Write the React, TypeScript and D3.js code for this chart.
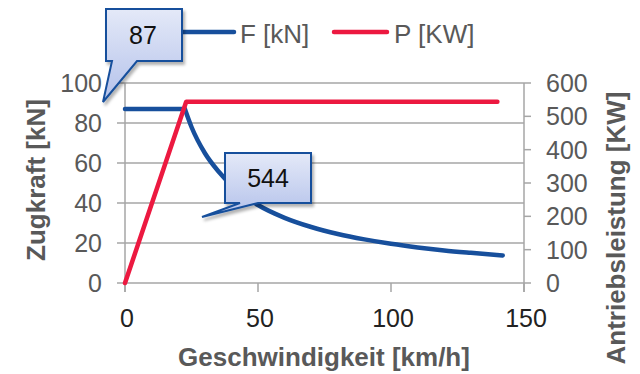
import React from "react";
import * as d3 from "d3";

const speedF = [0, 22.5, 25, 30, 35, 40, 45, 50, 60, 70, 80, 90, 100, 110, 120, 130, 142];
const forceF = [87, 87, 78, 65, 56, 49, 43.5, 39, 32.6, 28, 24.5, 21.8, 19.6, 17.8, 16.3, 15.1, 13.8];
const speedP = [0, 23, 140];
const powerP = [0, 544, 544];
const xTicks = [0, 50, 100, 150];
const yLeftTicks = [0, 20, 40, 60, 80, 100];
const yRightTicks = [0, 100, 200, 300, 400, 500, 600];
const seriesNames = ["F [kN]", "P [KW]"];
const callouts = ["87", "544"];

const W = 640, H = 374;
const BLUE = "#174f9c";
const RED = "#ec1940";
const GRID = "#a6a6a6";
const TXT = "#595959";
const FONT = "'Liberation Sans', Arial, sans-serif";

export default function App() {
  const x = d3.scaleLinear().domain([0, 150]).range([125, 524]);
  const yL = d3.scaleLinear().domain([0, 100]).range([283, 83]);
  const yR = d3.scaleLinear().domain([0, 600]).range([283, 83]);

  const fPts = speedF.map((s, i) => [s, forceF[i]] as [number, number]);
  const pPts = speedP.map((s, i) => [s, powerP[i]] as [number, number]);

  const lineFlat = d3.line<[number, number]>().x(d => x(d[0])).y(d => yL(d[1]));
  const lineCurve = d3.line<[number, number]>().x(d => x(d[0])).y(d => yL(d[1])).curve(d3.curveMonotoneX);
  const lineP = d3.line<[number, number]>().x(d => x(d[0])).y(d => yR(d[1]));

  const x0 = x(0), x1 = x(150);

  // callout shapes
  const box1 = { l: 106, t: 9, r: 182, b: 61, p1: 112, p2: 137, tx: 103, ty: 102 };
  const box2 = { l: 225, t: 153, r: 311, b: 203, p1: 240, p2: 258, tx: 202, ty: 217 };
  const calloutPath = (c: typeof box1) =>
    `M${c.l},${c.t}H${c.r}V${c.b}H${c.p2}L${c.tx},${c.ty}L${c.p1},${c.b}H${c.l}Z`;

  return (
    <svg width={W} height={H} style={{ position: "absolute", left: 0, top: 0, background: "#fff" }} fontFamily={FONT}>
      <defs>
        <linearGradient id="cg" x1="0" y1="0" x2="0" y2="1">
          <stop offset="0" stopColor="#e4e9f8" />
          <stop offset="1" stopColor="#b3c1ea" />
        </linearGradient>
        <filter id="sh" x="-20%" y="-20%" width="150%" height="150%">
          <feDropShadow dx="2" dy="3" stdDeviation="1.5" floodColor="#000" floodOpacity="0.3" />
        </filter>
      </defs>

      {/* gridlines */}
      {yLeftTicks.map(t => (
        <line key={"g" + t} x1={x0} x2={x1} y1={yL(t)} y2={yL(t)} stroke={GRID} strokeWidth={1.5} />
      ))}
      {/* left ticks */}
      {yLeftTicks.map(t => (
        <line key={"lt" + t} x1={x0 - 8} x2={x0} y1={yL(t)} y2={yL(t)} stroke={GRID} strokeWidth={1.5} />
      ))}
      {/* right ticks */}
      {yRightTicks.map(t => (
        <line key={"rt" + t} x1={x1} x2={x1 + 7} y1={yR(t)} y2={yR(t)} stroke={GRID} strokeWidth={1.5} />
      ))}
      {/* x ticks */}
      {xTicks.map(t => (
        <line key={"xt" + t} x1={x(t)} x2={x(t)} y1={283} y2={292} stroke={GRID} strokeWidth={1.5} />
      ))}
      {/* axes */}
      <line x1={x0} x2={x0} y1={83} y2={292} stroke={GRID} strokeWidth={1.5} />
      <line x1={x1} x2={x1} y1={83} y2={292} stroke={GRID} strokeWidth={1.5} />

      {/* tick labels */}
      {yLeftTicks.map(t => (
        <text key={"ll" + t} x={102} y={yL(t)} dy="0.36em" textAnchor="end" fontSize={25} fill={TXT}>{t}</text>
      ))}
      {yRightTicks.map(t => (
        <text key={"rl" + t} x={546} y={yR(t)} dy="0.36em" textAnchor="start" fontSize={25} fill={TXT}>{t}</text>
      ))}
      {xTicks.map(t => (
        <text key={"xl" + t} x={x(t) + 2} y={327} textAnchor="middle" fontSize={25} fill="#222">{t}</text>
      ))}

      {/* axis titles */}
      <text x={324} y={366} textAnchor="middle" fontSize={26} fontWeight="bold" fill={TXT}>Geschwindigkeit [km/h]</text>
      <text transform="translate(45,180) rotate(-90)" textAnchor="middle" fontSize={26} fontWeight="bold" fill={TXT}>Zugkraft [kN]</text>
      <text transform="translate(625,228) rotate(-90)" textAnchor="middle" fontSize={26} fontWeight="bold" fill={TXT}>Antriebsleistung [KW]</text>

      {/* series */}
      <path d={lineFlat(fPts.slice(0, 2)) || ""} fill="none" stroke={BLUE} strokeWidth={4.5} strokeLinecap="round" />
      <path d={lineCurve(fPts.slice(1)) || ""} fill="none" stroke={BLUE} strokeWidth={4.5} strokeLinecap="round" />
      <path d={lineP(pPts) || ""} fill="none" stroke={RED} strokeWidth={4.5} strokeLinecap="round" strokeLinejoin="round" />

      {/* legend */}
      <line x1={182} x2={234} y1={32} y2={32} stroke={BLUE} strokeWidth={4.5} strokeLinecap="round" />
      <text x={240} y={43} fontSize={26} fill={TXT}>{seriesNames[0]}</text>
      <line x1={334} x2={387} y1={32} y2={32} stroke={RED} strokeWidth={4.5} strokeLinecap="round" />
      <text x={394} y={43} fontSize={26} fill={TXT}>{seriesNames[1]}</text>

      {/* callouts */}
      <path d={calloutPath(box1)} fill="url(#cg)" stroke={BLUE} strokeWidth={2} filter="url(#sh)" />
      <text x={143} y={44} textAnchor="middle" fontSize={25} fill="#111">{callouts[0]}</text>
      <path d={calloutPath(box2)} fill="url(#cg)" stroke={BLUE} strokeWidth={2} filter="url(#sh)" />
      <text x={268} y={187} textAnchor="middle" fontSize={25} fill="#111">{callouts[1]}</text>
    </svg>
  );
}
